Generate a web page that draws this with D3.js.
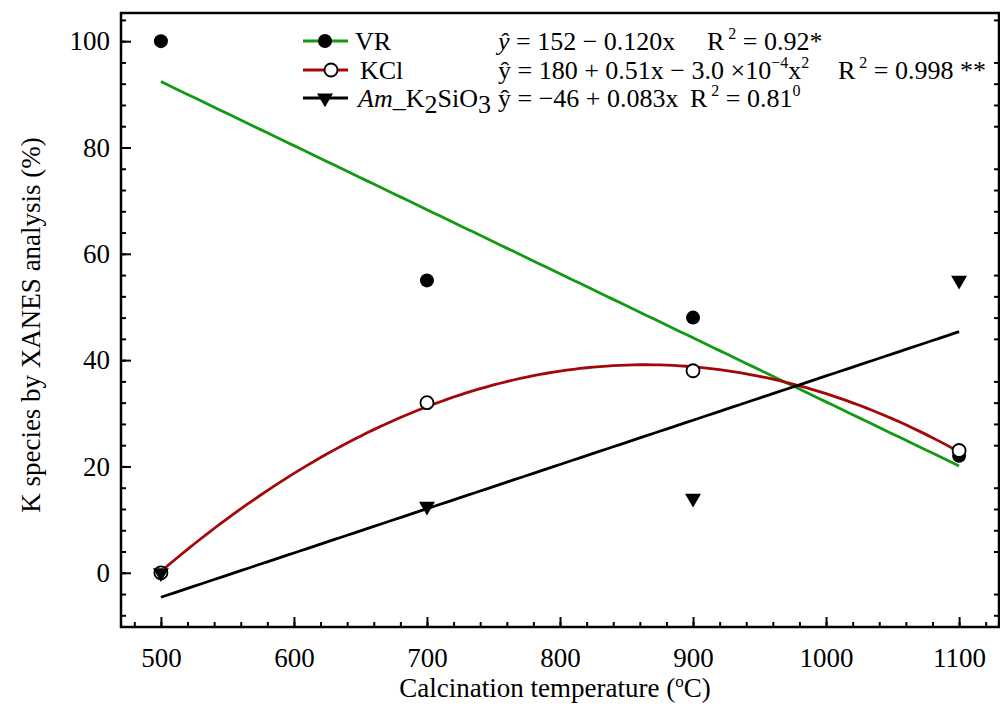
<!DOCTYPE html>
<html>
<head>
<meta charset="utf-8">
<script src="https://cdn.jsdelivr.net/npm/d3@7"></script>
<style>
  body { margin: 0; background: #fff; }
</style>
</head>
<body>
<svg id="chart" width="1000" height="719"></svg>
<script>
// calcination temperatures (°C)
const temps = [500, 700, 900, 1100]
// K species fractions (%)
const vr = [100, 55, 48, 22]
const kcl = [0, 32, 38, 23]
const amK2SiO3 = [0, 12.5, 14, 55]

const xTicks = [500, 600, 700, 800, 900, 1000, 1100]
const yTicks = [0, 20, 40, 60, 80, 100]

const frame = {left: 121, right: 999, top: 13, bottom: 627}
const serif = '"Liberation Serif", "Times New Roman", serif'
const fs = 27
const lfs = 26

const svg = d3.select('#chart')

const x = d3.scaleLinear().domain([470, 1130]).range([frame.left, frame.right])
const y = d3.scaleLinear().domain([-10.2, 105.3]).range([frame.bottom, frame.top])

// least squares polynomial fit (degree 1 or 2), solved from normal equations
function polyFit(xs, ys, deg){
    const n = deg + 1
    let A = [], b = []
    for(let i = 0; i < n; i++){
        A.push([])
        for(let j = 0; j < n; j++){
            A[i].push(d3.sum(xs, function(v){ return Math.pow(v, i + j) }))
        }
        b.push(d3.sum(xs, function(v, k){ return Math.pow(v, i) * ys[k] }))
    }
    // gaussian elimination
    for(let c = 0; c < n; c++){
        for(let r = c + 1; r < n; r++){
            const f = A[r][c] / A[c][c]
            for(let k = c; k < n; k++) A[r][k] -= f * A[c][k]
            b[r] -= f * b[c]
        }
    }
    let coef = new Array(n).fill(0)
    for(let r = n - 1; r >= 0; r--){
        let s = b[r]
        for(let k = r + 1; k < n; k++) s -= A[r][k] * coef[k]
        coef[r] = s / A[r][r]
    }
    return function(v){
        return d3.sum(coef, function(c, i){ return c * Math.pow(v, i) })
    }
}

const series = [
    {name: 'VR', values: vr, deg: 1, color: '#129a12', marker: 'filled'},
    {name: 'KCl', values: kcl, deg: 2, color: '#a30808', marker: 'open'},
    {name: 'Am', values: amK2SiO3, deg: 1, color: '#000', marker: 'tri'}
]

// axes (ticks point inward)
const xMinor = d3.range(480, 1121, 20)
const yMinor = d3.range(-8, 105, 4)

svg.append('g')
    .attr('transform', `translate(0,${frame.bottom})`)
    .call(d3.axisBottom(x).tickValues(xMinor).tickSize(-5).tickFormat(''))
    .call(g => g.select('.domain').remove())
svg.append('g')
    .attr('transform', `translate(0,${frame.bottom})`)
    .call(d3.axisBottom(x).tickValues(xTicks).tickSize(-10).tickPadding(21).tickFormat(d3.format('d')))
    .call(g => g.select('.domain').remove())
svg.append('g')
    .attr('transform', `translate(${frame.left},0)`)
    .call(d3.axisLeft(y).tickValues(yMinor).tickSize(-5).tickFormat(''))
    .call(g => g.select('.domain').remove())
svg.append('g')
    .attr('transform', `translate(${frame.left},0)`)
    .call(d3.axisLeft(y).tickValues(yTicks).tickSize(-10).tickPadding(11))
    .call(g => g.select('.domain').remove())
svg.append('g')
    .attr('transform', `translate(${frame.right},0)`)
    .call(d3.axisRight(y).tickValues(yMinor.filter(d => d % 20 != 0)).tickSize(-5).tickFormat(''))
    .call(g => g.select('.domain').remove())

svg.selectAll('g').attr('font-family', null).attr('font-size', null)
svg.selectAll('.tick line').attr('stroke', '#000').attr('stroke-width', 2)
svg.selectAll('.tick text').style('font-size', fs + 'px')

svg.append('rect')
    .attr('x', frame.left).attr('y', frame.top)
    .attr('width', frame.right - frame.left).attr('height', frame.bottom - frame.top)
    .attr('fill', 'none').attr('stroke', '#000').attr('stroke-width', 2.5)

// axis titles
const xt = svg.append('text')
    .attr('x', 555).attr('y', 697)
    .attr('text-anchor', 'middle')
    .style('font-size', fs + 'px')
xt.append('tspan').text('Calcination temperature (')
xt.append('tspan').attr('dy', -10).style('font-size', '17px').text('o')
xt.append('tspan').attr('dy', 10).text('C)')

svg.append('text')
    .attr('transform', 'translate(40,325) rotate(-90)')
    .attr('text-anchor', 'middle')
    .style('font-size', fs + 'px')
    .text('K species by XANES analysis (%)')

// fitted curves
const curveX = d3.range(500, 1100.1, 5)
series.forEach(function(s){
    const f = polyFit(temps, s.values, s.deg)
    svg.append('path')
        .datum(curveX)
        .attr('fill', 'none')
        .attr('stroke', s.color)
        .attr('stroke-width', 2.8)
        .attr('d', d3.line().x(d => x(d)).y(d => y(f(d))))
})

// markers
const tri = d3.symbol().type(d3.symbolTriangle).size(110)
function drawMarker(g, kind, cx, cy){
    if(kind == 'filled'){
        g.append('circle').attr('cx', cx).attr('cy', cy).attr('r', 7).attr('fill', '#000')
    } else if(kind == 'open'){
        g.append('circle').attr('cx', cx).attr('cy', cy).attr('r', 6.5)
            .attr('fill', '#fff').attr('stroke', '#000').attr('stroke-width', 1.8)
    } else {
        g.append('path').attr('d', tri)
            .attr('transform', `translate(${cx},${cy}) rotate(180)`)
            .attr('fill', '#000')
    }
}
const marks = svg.append('g')
series.forEach(function(s){
    s.values.forEach(function(v, i){
        drawMarker(marks, s.marker, x(temps[i]), y(v))
    })
})

// legend
const legend = svg.append('g')
const rowsY = [41, 70, 98]
series.forEach(function(s, i){
    legend.append('line')
        .attr('x1', 303).attr('x2', 348)
        .attr('y1', rowsY[i]).attr('y2', rowsY[i])
        .attr('stroke', s.color).attr('stroke-width', 2.8)
    drawMarker(legend, s.marker, i == 1 ? 331 : 325, rowsY[i])
})
function legendText(px, py){
    return legend.append('text')
        .attr('x', px).attr('y', py + 9)
        .style('font-size', lfs + 'px')
        .attr('xml:space', 'preserve')
}
function sup(t, s){
    t.append('tspan').attr('dy', -11).style('font-size', '16px').text(s)
}
function back(t, s){
    t.append('tspan').attr('dy', 11).text(s)
}
legendText(355, rowsY[0]).text('VR')
legendText(360, rowsY[1]).text('KCl')
const am = legendText(358, rowsY[2])
am.append('tspan').style('font-style', 'italic').text('Am')
am.append('tspan').text('_K')
am.append('tspan').attr('dy', 6).text('2')
am.append('tspan').attr('dy', -6).text('SiO')
am.append('tspan').attr('dy', 6).text('3')

const eqX = 498
const eq1 = legendText(eqX, rowsY[0])
eq1.append('tspan').style('font-style', 'italic').text('ŷ')
eq1.append('tspan').text(' = 152 − 0.120x')
const r1 = legendText(707, rowsY[0])
r1.text('R')
sup(r1, ' 2')
back(r1, ' = 0.92*')

const eq2 = legendText(eqX, rowsY[1])
eq2.append('tspan').text('ŷ = 180 + 0.51x − 3.0 ×10')
sup(eq2, '−4')
back(eq2, 'x')
sup(eq2, '2')
const r2 = legendText(838, rowsY[1])
r2.text('R')
sup(r2, ' 2')
back(r2, ' = 0.998 **')

const eq3 = legendText(eqX, rowsY[2])
eq3.append('tspan').text('ŷ = −46 + 0.083x')
const r3 = legendText(690, rowsY[2])
r3.text('R')
sup(r3, ' 2')
back(r3, ' = 0.81')
sup(r3, '0')

svg.selectAll('text').style('font-family', serif).style('fill', '#000')
</script>
</body>
</html>
